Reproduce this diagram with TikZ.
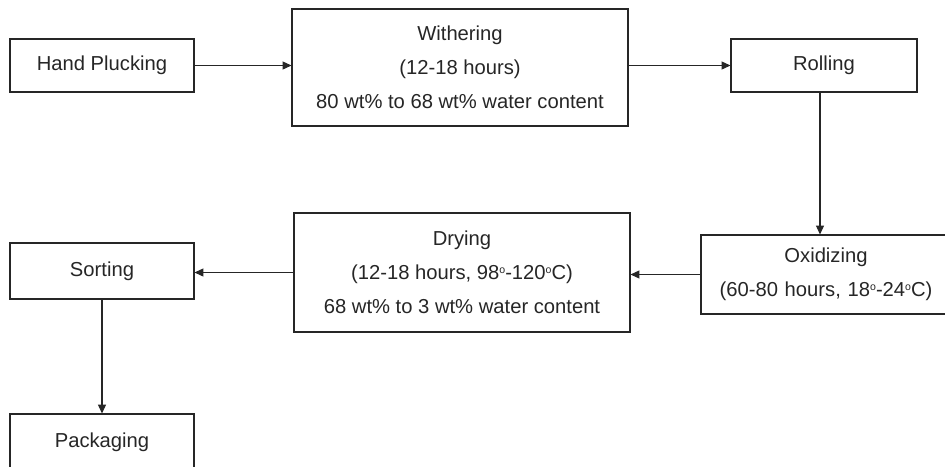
\documentclass[tikz,border=0pt]{standalone}
\usepackage{fontspec}
\setmainfont{Liberation Sans}
\usetikzlibrary{arrows.meta,positioning}
\newcommand{\dg}{\raisebox{0.6ex}{\fontsize{6}{6}\selectfont o}}
\tikzset{
  stage/.style={draw=black!85, line width=0.6pt, inner sep=0pt, align=center,
    text=black!85, font=\fontsize{11.5}{19.5}\selectfont},
  flow/.style={draw=black!85, line width=0.6pt, -{Triangle[length=5pt,width=4.5pt]}}
}
\begin{document}
\begin{tikzpicture}
          \fill[white] (0,0) rectangle (18.9,-9.32);
          \useasboundingbox (0,0) rectangle (18.9,-9.32);

          \node[stage, minimum width=3.68cm, minimum height=1.06cm] (pluck) at (2.04, -1.31) {Hand Plucking};
          \node[stage, minimum width=6.72cm, minimum height=2.34cm] (wither) at (9.2, -1.35)
            {Withering\\(12-18 hours)\\80 wt\% to 68 wt\% water content};
          \node[stage, minimum width=3.72cm, minimum height=1.06cm] (roll) at (16.48, -1.31) {Rolling};

          % box runs off the right edge of the page
          \node[stage, minimum width=5.6cm, minimum height=1.58cm, yshift=-0.04cm,
            text width=5.0cm, xshift=0.3cm] (oxid) at (16.52, -5.45)
            {\hspace*{-0.6cm}Oxidizing\\\hspace*{-0.6cm}(60-80 hours, 18\dg-24\dg C)};
          \node[stage, minimum width=6.72cm, minimum height=2.38cm] (dry) at (9.24, -5.45)
            {Drying\\(12-18 hours, 98\dg-120\dg C)\\68 wt\% to 3 wt\% water content};
          \node[stage, minimum width=3.68cm, minimum height=1.12cm] (sort) at (2.04, -5.42) {Sorting};

          \node[stage, minimum width=3.68cm, minimum height=1.12cm] (pack) at (2.04, -8.84) {Packaging};

          \draw[flow] (pluck.east) -- (pluck.east -| wither.west);
          \draw[flow] (wither.east |- roll.west) -- (roll.west);
          \draw[flow] ([xshift=-0.08cm]roll.south) -- ([xshift=-0.08cm]roll.south |- oxid.north);
          \draw[flow] (oxid.west) -- (oxid.west -| dry.east);
          \draw[flow] (dry.west) -- (dry.west -| sort.east);
          \draw[flow] (sort.south) -- (pack.north);
\end{tikzpicture}
\end{document}
